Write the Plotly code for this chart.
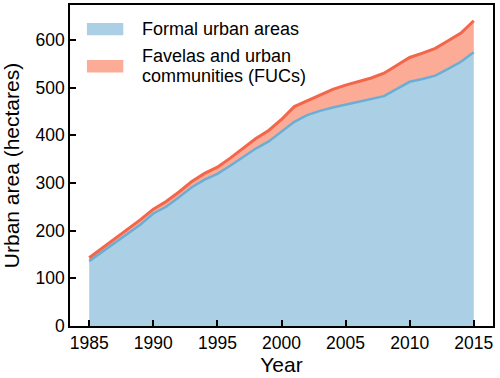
import plotly.graph_objects as go

AZUL_LINHA = "#6aaed6"
AZUL_AREA = "#abd0e6"
VERM_LINHA = "#f4664a"
VERM_AREA = "#fcab96"
PRETO = "#000000"

years = list(range(1985, 2016))
formal = [136, 155, 174, 193, 213, 236, 250, 270, 291, 307, 319, 336, 354, 372, 387, 408,
          428, 442, 451, 458, 464, 470, 476, 482, 497, 512, 518, 525, 539, 554, 574]
total = [143, 163, 183, 203, 223, 245, 261, 281, 303, 320, 333, 352, 372, 393, 410, 433,
         460, 472, 485, 496, 505, 513, 520, 530, 547, 563, 572, 582, 598, 614, 640]
fucs = [t - f for t, f in zip(total, formal)]

fig = go.Figure()
fig.add_trace(go.Scatter(
    x=years, y=formal, name="Formal urban areas",
    stackgroup="one", mode="lines",
    line=dict(color=AZUL_LINHA, width=2.5), fillcolor=AZUL_AREA,
))
fig.add_trace(go.Scatter(
    x=years, y=fucs, name="Favelas and urban communities (FUCs)",
    stackgroup="one", mode="lines",
    line=dict(color=VERM_LINHA, width=3), fillcolor=VERM_AREA,
))

# legenda feita à mão: retângulos cheios como no original
for cor, y0, y1 in [(AZUL_AREA, 0.906, 0.944), (VERM_AREA, 0.790, 0.829)]:
    fig.add_shape(type="rect", xref="paper", yref="paper",
                  x0=0.040, x1=0.126, y0=y0, y1=y1,
                  fillcolor=cor, line_width=0)
for texto, y in [("Formal urban areas", 0.924),
                 ("Favelas and urban", 0.841),
                 ("communities (FUCs)", 0.778)]:
    fig.add_annotation(text=texto, xref="paper", yref="paper", x=0.165, y=y,
                       xanchor="left", yanchor="middle", showarrow=False,
                       font=dict(size=18))

fig.update_layout(
    width=500, height=378,
    plot_bgcolor="white", paper_bgcolor="white",
    font=dict(family="Arial, Liberation Sans, sans-serif", size=17.5, color=PRETO),
    margin=dict(l=70, r=7, t=5, b=52),
    showlegend=False,
)
fig.update_xaxes(
    range=[1983.5, 2016.5], tickvals=list(range(1985, 2016, 5)),
    showline=True, linecolor=PRETO, linewidth=1.5, mirror=True,
    ticks="inside", ticklen=6, tickwidth=1.5, tickcolor=PRETO,
    showgrid=False, zeroline=False, automargin=False,
    title=dict(text="Year", standoff=4),
)
fig.update_yaxes(
    range=[0, 673], tickvals=list(range(0, 700, 100)),
    showline=True, linecolor=PRETO, linewidth=1.5, mirror=True,
    ticks="inside", ticklen=6, tickwidth=1.5, tickcolor=PRETO,
    showgrid=False, zeroline=False, automargin=False,
    title=dict(text="Urban area (hectares)", standoff=11),
)

# o body da página tem margem de 8px; tira-se para o gráfico caber inteiro
fig.write_html("out.html", config={"displayModeBar": False},
               post_script="document.body.style.margin='0';")
